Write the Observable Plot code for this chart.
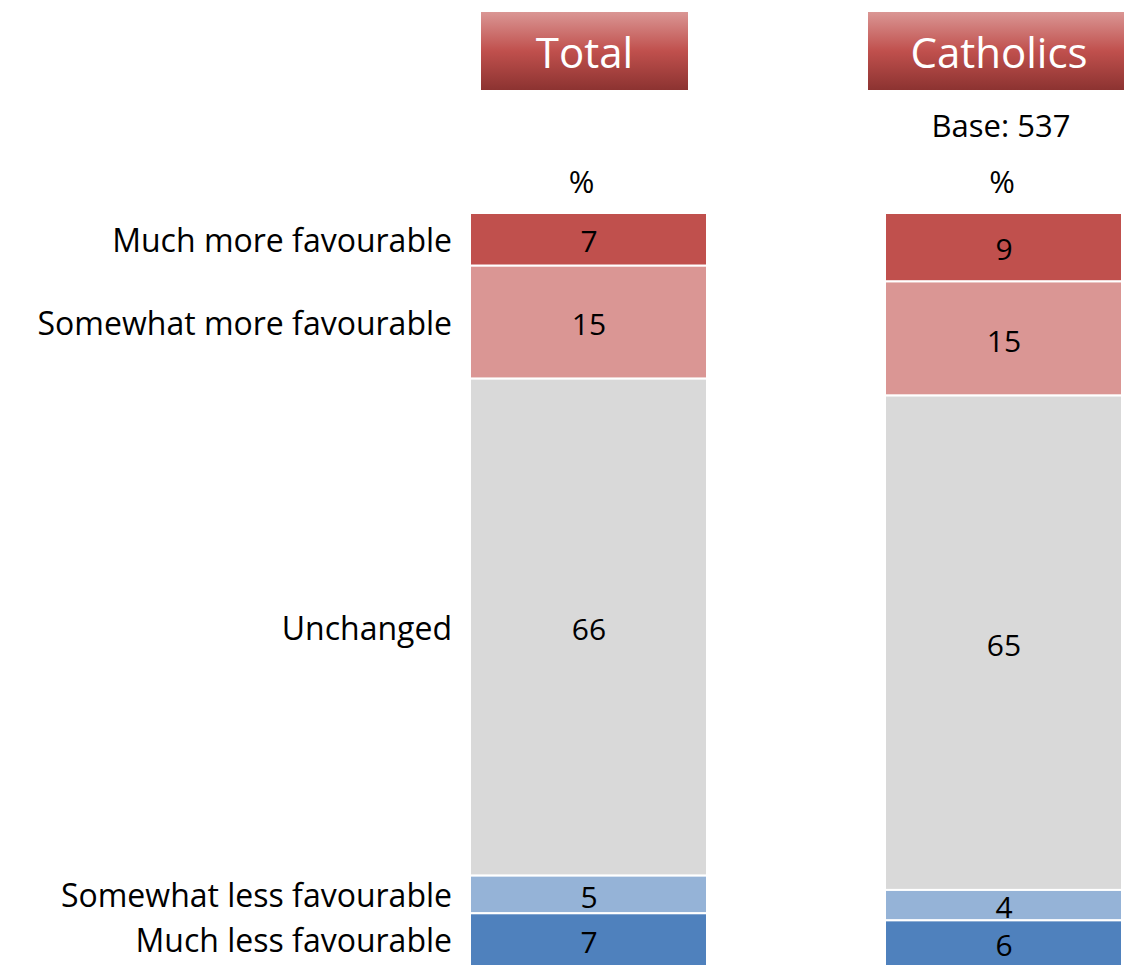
<!DOCTYPE html>
<html>
<head>
<meta charset="utf-8">
<script src="https://cdn.jsdelivr.net/npm/d3@7"></script>
<script src="https://cdn.jsdelivr.net/npm/@observablehq/plot@0.6"></script>
<style>
  html, body { margin: 0; padding: 0; background: #fff; }
  #wrap { position: relative; width: 1124px; height: 966px; font-family: "Open Sans", Lato, sans-serif; overflow: hidden; }
  .hdr { position: absolute; top: 12px; height: 78px; color: #fff; font-size: 42px; display: flex; align-items: center; justify-content: center;
         background: linear-gradient(to bottom, #DA9694 0%, #C0504D 50%, #8C3331 100%); }
  .sub { position: absolute; font-size: 31px; color: #000; text-align: center; line-height: 1; }
  #chart { position: absolute; left: 0; top: 0; }
</style>
</head>
<body>
<div id="wrap">
  <div class="hdr" style="left:481px;width:207px;">Total</div>
  <div class="hdr" style="left:868px;width:262px;">Catholics</div>
  <div class="sub" style="left:886px;width:230px;top:110px;">Base: 537</div>
  <div class="sub" style="left:463px;width:237px;top:166px;">%</div>
  <div class="sub" style="left:884px;width:236px;top:166px;">%</div>
  <div id="chart"></div>
</div>
<script>
const groups = ["Total", "Catholics"];
const categories = ["Much more favourable", "Somewhat more favourable", "Unchanged", "Somewhat less favourable", "Much less favourable"];
const totalValues = [7, 15, 66, 5, 7];
const catholicValues = [9, 15, 65, 4, 6];
const colors = ["#C0504D", "#DA9694", "#D9D9D9", "#95B3D7", "#4F81BD"];

const data = [];
categories.forEach((c, i) => data.push({group: "Total", cat: c, value: totalValues[i]}));
categories.forEach((c, i) => data.push({group: "Catholics", cat: c, value: catholicValues[i]}));

const order = categories.slice().reverse();
const stackOpts = {x: "group", y: "value", z: "cat", order, offset: "normalize"};

const chart = Plot.plot({
  width: 1124,
  height: 966,
  marginTop: 213,
  marginBottom: 0,
  marginLeft: 469,
  marginRight: 2,
  style: {fontFamily: "'Open Sans', Lato, sans-serif", background: "transparent"},
  x: {domain: groups, paddingInner: 0.43, paddingOuter: 0, axis: null},
  y: {domain: [0, 1], axis: null},
  color: {domain: categories, range: colors},
  marks: [
    Plot.barY(data, Plot.stackY({...stackOpts, fill: "cat", stroke: "white", strokeWidth: 2})),
    Plot.text(data, Plot.stackY({...stackOpts, text: "value", fontSize: 30, fill: "black", dy: 3})),
    Plot.text(data.filter(d => d.group === "Total"), Plot.stackY({...stackOpts, text: "cat", fontSize: 32, fill: "black", textAnchor: "end", dx: -137, dy: 2}))
  ]
});
document.getElementById("chart").appendChild(chart);
</script>
</body>
</html>
